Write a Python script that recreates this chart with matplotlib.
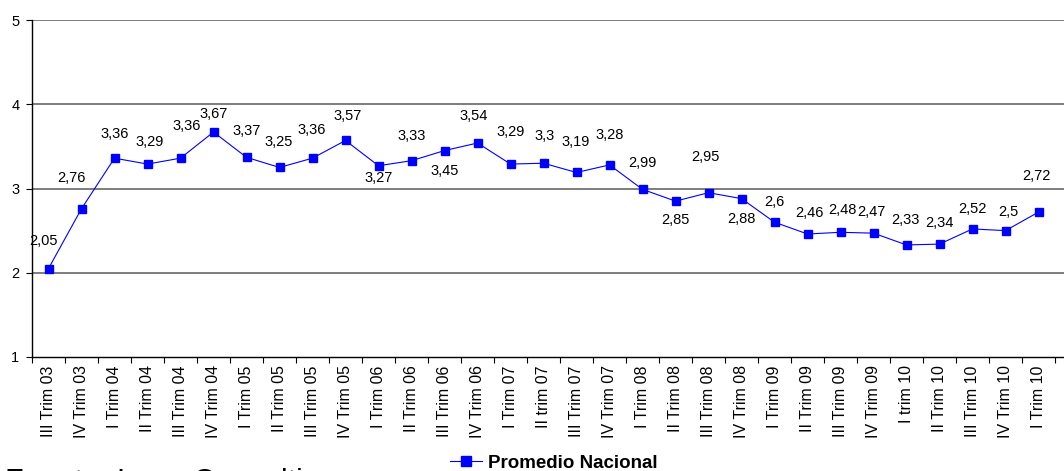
import matplotlib.pyplot as plt
import numpy as np

plt.rcParams['font.family'] = ['Liberation Sans', 'DejaVu Sans']

# Datos
trimestres = ['III Trim 03', 'IV Trim 03',
              'I Trim 04', 'II Trim 04', 'III Trim 04', 'IV Trim 04',
              'I Trim 05', 'II Trim 05', 'III Trim 05', 'IV Trim 05',
              'I Trim 06', 'II Trim 06', 'III Trim 06', 'IV Trim 06',
              'I Trim 07', 'II trim 07', 'III Trim 07', 'IV Trim 07',
              'I Trim 08', 'II Trim 08', 'III Trim 08', 'IV Trim 08',
              'I Trim 09', 'II Trim 09', 'III Trim 09', 'IV Trim 09',
              'I trim 10', 'II Trim 10', 'III Trim 10', 'IV Trim 10', 'I Trim 10']
promedio = [2.05, 2.76,
            3.36, 3.29, 3.36, 3.67,
            3.37, 3.25, 3.36, 3.57,
            3.27, 3.33, 3.45, 3.54,
            3.29, 3.3, 3.19, 3.28,
            2.99, 2.85, 2.95, 2.88,
            2.6, 2.46, 2.48, 2.47,
            2.33, 2.34, 2.52, 2.5, 2.72]

# desplazamiento de las etiquetas (pixeles: dx, dy hacia abajo)
offsets = [(-5, -28), (-10, -31),
           (0, -24), (2, -22), (6, -32), (0, -18),
           (0, -26), (-1, -25), (-1, -28), (2, -24),
           (0, 12), (0, -25), (0, 20), (-4, -27),
           (0, -32), (1, -27), (-1, -30), (0, -30),
           (0, -26), (0, 19), (-3, -36), (0, 20),
           (0, -20), (2, -21), (2, -22), (-2, -21),
           (-1, -25), (0, -21), (0, -20), (3, -19), (-2, -36)]

W, H = 1064, 471
fig = plt.figure(figsize=(W / 100, H / 100), dpi=100)
ax = fig.add_axes([32 / W, 1 - 357 / H, 1 - 32 / W, (357 - 20) / H])

x = np.arange(len(promedio))
line, = ax.plot(x, promedio, color='#0000FF', linewidth=0.8, marker='s',
                markersize=6, markerfacecolor='#0000FF', markeredgecolor='#0000FF',
                label='Promedio Nacional', zorder=3)

for xi, v, (dx, dy) in zip(x, promedio, offsets):
    ax.annotate(f'{v:g}'.replace('.', ','), (xi, v), xytext=(dx, -dy),
                textcoords='offset pixels', ha='center', va='center',
                fontsize=10.5, zorder=4)

ax.set_ylim(1, 5)
ax.set_xlim(-0.5, -0.5 + (W - 32) / 33)
ax.set_yticks([1, 2, 3, 4, 5])
ax.set_yticklabels(['1', '2', '3', '4', '5'], fontsize=10.5)
for yv in [2, 3, 4, 5]:
    ax.axhline(yv, color='#5a5a5a', linewidth=1.1, zorder=1)

ax.set_xticks(x)
ax.set_xticklabels(trimestres, rotation=90, fontsize=11.5)
ax.set_xticks(np.arange(len(promedio) + 1) - 0.5, minor=True)
ax.tick_params(axis='x', which='major', length=0, pad=6)
ax.tick_params(axis='x', which='minor', length=4, width=0.8, direction='out')
ax.tick_params(axis='y', length=4, width=0.8, direction='out', pad=5)

for s in ['top', 'right']:
    ax.spines[s].set_visible(False)
ax.spines['left'].set_linewidth(1.0)
ax.spines['bottom'].set_linewidth(1.0)

fig.legend(handles=[line], loc='center', bbox_to_anchor=(554 / W, 1 - 463 / H),
           frameon=False, prop={'size': 13.5, 'weight': 'bold'},
           handlelength=1.7, handletextpad=0.3, borderaxespad=0,
           markerscale=1.3)

fig.text(5 / W, 1 - 491 / H, 'Fuente: Inmo Consulting', fontsize=22,
         ha='left', va='baseline')

fig.savefig('out.png', dpi=100)
